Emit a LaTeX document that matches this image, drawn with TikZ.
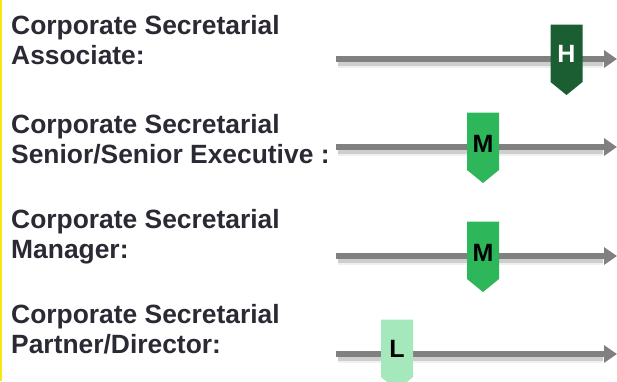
\documentclass[tikz,border=0pt]{standalone}
\usepackage{fontspec}
\setmainfont{Liberation Sans}
\usetikzlibrary{arrows.meta}
\definecolor{txt}{RGB}{42,42,52}
\definecolor{linegray}{RGB}{128,128,128}
\definecolor{hgreen}{RGB}{26,94,50}
\definecolor{mgreen}{RGB}{46,183,90}
\definecolor{lgreen}{RGB}{164,232,188}
\definecolor{edgeyellow}{RGB}{250,230,20}
\tikzset{
  lbl/.style={anchor=base west, inner sep=0pt, text=txt, font=\fontsize{26.4}{30.5}\selectfont\bfseries},
  arrowline/.style={draw=linegray, line width=5.5pt, -{Triangle[length=13pt,width=17pt]}},
  shadowline/.style={draw=black, line width=6pt, opacity=0.14},
  letter/.style={anchor=base, inner sep=0pt, font=\fontsize{25}{25}\selectfont\bfseries},
}
\newcommand{\marker}[3]{% x, line y, colour
  \fill[#3] ({#1-16},{#2-34.5}) -- ({#1+16},{#2-34.5}) -- ({#1+16},{#2+23}) -- (#1,{#2+36}) -- ({#1-16},{#2+23}) -- cycle;
}
\begin{document}
\begin{tikzpicture}[x=1pt,y=-1pt]
\useasboundingbox (0,0) rectangle (617,381);
\fill[edgeyellow] (0,0) rectangle (1.6,381);

% labels
\node[lbl] (t1a) at (11,34) {Corporate Secretarial};
\node[lbl] (t1b) at (11,64.5) {Associate:};
\node[lbl] (t2a) at (11,133) {Corporate Secretarial};
\node[lbl] (t2b) at (11,163) {Senior/Senior Executive :};
\node[lbl] (t3a) at (11,228) {Corporate Secretarial};
\node[lbl] (t3b) at (11,258) {Manager:};
\node[lbl] (t4a) at (11,323) {Corporate Secretarial};
\node[lbl] (t4b) at (11,353) {Partner/Director:};

% arrows
\foreach \i/\y in {1/59,2/147,3/256,4/354}{
  \coordinate (s\i) at (336,\y);
  \coordinate (e\i) at (617,\y);
  \coordinate (ss\i) at (338,\y+3.5);
  \coordinate (se\i) at (603,\y+3.5);
  \draw[shadowline] (ss\i) -- (se\i);
  \draw[shadowline, line width=10pt, opacity=0.06] (ss\i) -- (se\i);
  \draw[arrowline] (s\i) -- (e\i);
}

% markers
\marker{566.5}{59}{hgreen}
\node[letter, text=white] (h1) at (566.5,62.5) {H};
\marker{483}{147}{mgreen}
\node[letter, text=black] (m2) at (483,152) {M};
\marker{483}{256}{mgreen}
\node[letter, text=black] (m3) at (483,261.5) {M};
\marker{397}{354}{lgreen}
\node[letter, text=black] (l4) at (397,357.5) {L};
\end{tikzpicture}
\end{document}
